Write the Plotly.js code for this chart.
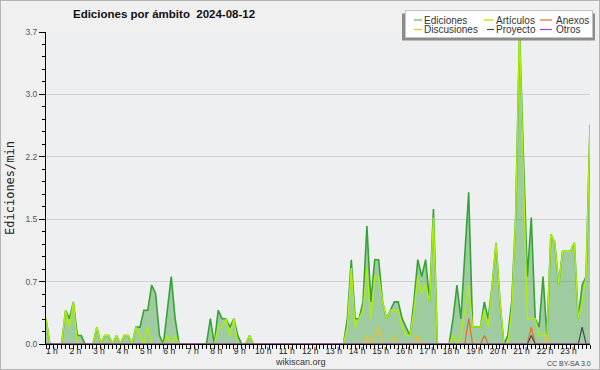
<!DOCTYPE html>
<html>
<head>
<meta charset="utf-8">
<script src="https://cdn.plot.ly/plotly-3.0.1.min.js"></script>
<style>
  html, body { margin: 0; padding: 0; background: #f0f0f0; }
  #chart { width: 598px; height: 368px; border: 1px solid #b4b4b4; }
</style>
</head>
<body>
<div id="chart"></div>
<script>
// ---- data (edits per minute, 10-minute steps) ----
const startHour = 0.75;      // first sample
const stepHours = 1 / 6;     // 10 minutes

const ediciones = [
  0.3,0,0,0,0,0.4,0.3,0.5,0.1,0.1,
  0,0,0,0.2,0,0.1,0.1,0,0.1,0,
  0.1,0.1,0,0.2,0.2,0.4,0.4,0.7,0.6,0.1,
  0,0.4,0.8,0.3,0,0,0,0,0,0,
  0,0,0.3,0,0.4,0.3,0.3,0.2,0.3,0.1,
  0,0,0.1,0,0,0,0,0,0,0,
  0,0,0,0,0,0,0,0,0,0,
  0,0,0,0,0,0,0,0.3,1.0,0.3,
  0.3,0.5,1.4,0.5,1.0,1.0,0.5,0.3,0.4,0.5,
  0.5,0.3,0.2,0.1,0.5,1.0,0.8,1.0,0.5,1.6,
  0,0,0,0,0.3,0.7,0.3,1.0,1.8,0.2,
  0.2,0.2,0.5,0.3,0.7,1.2,0.5,0,0.1,0.5,
  1.5,3.7,2.2,0.8,1.5,0.3,0.2,0.8,0.1,1.3,
  1.2,0.7,1.1,1.1,1.1,1.2,0.3,0.7,0.8,2.6
];
const articulos = [
  0.3,0,0,0,0,0.4,0.2,0.5,0,0,
  0,0,0,0.2,0,0.1,0.1,0,0.1,0,
  0.1,0.1,0,0.2,0.1,0,0.2,0,0,0,
  0,0.1,0,0.1,0,0,0,0,0,0,
  0,0,0,0,0.2,0.2,0.3,0.1,0.3,0,
  0,0,0.1,0,0,0,0,0,0,0,
  0,0,0,0,0,0,0,0,0,0,
  0,0,0,0,0,0,0,0.2,0.9,0.2,
  0.3,0.4,0.9,0.3,0.8,0.8,0.5,0.3,0.4,0.4,
  0.4,0.2,0.1,0.1,0.4,0.8,0.6,0.7,0.5,1.5,
  0,0,0,0,0.1,0,0.1,0.4,0.7,0.2,
  0.2,0.2,0.4,0.2,0.7,1.2,0.5,0,0,0.4,
  1.5,3.7,2.0,0.3,0.3,0.3,0.1,0.1,0.1,1.3,
  1.2,0.7,1.1,1.1,1.1,1.2,0.3,0.5,0.8,2.6
];
const discusiones = [
  0,0,0,0,0,0,0,0,0,0,
  0,0,0,0,0,0,0,0,0,0,
  0,0,0,0,0,0,0,0,0,0,
  0,0,0,0,0,0,0,0,0,0,
  0,0,0,0,0,0,0,0,0,0,
  0,0,0,0,0,0,0,0,0,0,
  0,0,0,0,0,0,0,0,0,0,
  0,0,0,0,0,0,0,0,0,0,
  0,0,0.1,0,0.1,0.2,0,0,0,0.1,
  0,0,0,0,0,0.1,0,0,0,0,
  0,0,0,0,0,0,0,0,0,0,
  0,0,0,0,0,0,0,0,0,0,
  0,0,0,0,0,0,0,0,0.1,0,
  0,0,0,0,0,0,0,0,0,0
];
const anexos = [
  0,0,0,0,0,0,0,0,0,0,
  0,0,0,0,0,0,0,0,0,0,
  0,0,0,0,0,0,0,0,0,0,
  0,0,0,0,0,0,0,0,0,0,
  0,0,0,0,0,0,0,0,0,0,
  0,0,0,0,0,0,0,0,0,0,
  0,0,0,0,0,0,0,0,0,0,
  0,0,0,0,0,0,0,0,0,0,
  0,0,0,0,0,0,0,0,0,0,
  0,0,0,0,0,0,0,0,0,0,
  0,0,0,0,0,0,0,0,0.3,0,
  0,0,0.1,0,0,0,0,0,0,0,
  0,0,0,0,0.2,0,0,0,0,0,
  0,0,0,0,0,0,0,0,0,0
];
const proyecto = [
  0,0,0,0,0,0,0,0,0,0,
  0,0,0,0,0,0,0,0,0,0,
  0,0,0,0,0,0,0,0,0,0,
  0,0,0,0,0,0,0,0,0,0,
  0,0,0,0,0,0,0,0,0,0,
  0,0,0,0,0,0,0,0,0,0,
  0,0,0,0,0,0,0,0,0,0,
  0,0,0,0,0,0,0,0,0,0,
  0,0,0,0,0,0,0,0,0,0,
  0,0,0,0,0,0,0,0,0,0,
  0,0,0,0,0,0,0,0,0,0,
  0,0,0,0,0,0,0,0,0,0,
  0,0,0,0,0.1,0,0,0,0,0,
  0,0,0,0,0,0,0,0.2,0,0
];
const otros = new Array(ediciones.length).fill(0);

const hourTicks = [1,2,3,4,5,6,7,8,9,10,11,12,13,14,15,16,17,18,19,20,21,22,23];
const hourLabels = ["1 h","2 h","3 h","4 h","5 h","6 h","7 h","8 h","9 h","10 h","11 h","12 h",
                    "13 h","14 h","15 h","16 h","17 h","18 h","19 h","20 h","21 h","22 h","23 h"];
const yTickVals = [0, 0.74, 1.48, 2.22, 2.96, 3.7];
const yTickText = ["0.0", "0.7", "1.5", "2.2", "3.0", "3.7"];

// ---- chart ----
const x = ediciones.map((_, i) => startHour + i * stepHours);
const xEnd = startHour + (ediciones.length - 1) * stepHours;

function line(name, y, color, width, group) {
  return { type: 'scatter', mode: 'lines', name: name, x: x, y: y,
           line: { color: color, width: width }, legendgroup: group, hoverinfo: 'skip' };
}

const data = [
  { type: 'scatter', mode: 'lines', x: x, y: ediciones, fill: 'tozeroy',
    fillcolor: 'rgba(60,160,60,0.45)', line: { width: 0, color: 'rgba(0,0,0,0)' },
    showlegend: false, hoverinfo: 'skip' },
  line('Ediciones', ediciones, '#37a337', 1.6, 'c1'),
  line('Artículos', articulos, '#aeee0c', 1.4, 'c2'),
  line('Discusiones', discusiones, '#f2c01a', 1.2, 'c1'),
  line('Anexos', anexos, '#ee6a22', 1.2, 'c3'),
  line('Proyecto', proyecto, '#4a4a4a', 1.2, 'c2'),
  line('Otros', otros, '#9a3cf0', 1.2, 'c3')
];

const layout = {
  width: 598, height: 368,
  margin: { l: 45, r: 9, t: 31, b: 25, autoexpand: false },
  paper_bgcolor: '#f0f0f0',
  plot_bgcolor: '#eeeff1',
  font: { family: 'Liberation Sans, Arial, sans-serif', size: 9, color: '#333' },
  title: {
    text: '<b>Ediciones por ámbito\u00a0 2024-08-12</b>',
    font: { family: 'Liberation Sans, Arial, sans-serif', size: 11.5, color: '#111' },
    xref: 'paper', x: 0.217, xanchor: 'center',
    yref: 'container', y: 0.965, yanchor: 'middle'
  },
  xaxis: {
    range: [startHour, xEnd],
    tickmode: 'array', tickvals: hourTicks, ticktext: hourLabels,
    ticks: '', showgrid: false, zeroline: false,
    showline: true, linecolor: '#000', linewidth: 1,
    tickfont: { size: 8.5, color: '#222' },
    ticklabelstandoff: -1,
    minor: { tickmode: 'linear', tick0: startHour, dtick: stepHours,
             ticks: 'outside', ticklen: 4, tickcolor: '#000', tickwidth: 1, showgrid: false },
    fixedrange: true
  },
  yaxis: {
    range: [0, 3.7],
    tickmode: 'array', tickvals: yTickVals, ticktext: yTickText,
    ticks: 'outside', ticklen: 6, tickcolor: '#000', tickwidth: 1,
    showgrid: true, gridcolor: '#cfcfcf', gridwidth: 1, zeroline: false,
    showline: true, linecolor: '#000', linewidth: 1,
    tickfont: { size: 8.5, color: '#555' },
    minor: { tickmode: 'linear', tick0: 0, dtick: 0.148,
             ticks: 'outside', ticklen: 3, tickcolor: '#000', tickwidth: 1, showgrid: false },
    title: { text: 'Ediciones/min', standoff: 8,
             font: { family: 'DejaVu Sans Mono, monospace', size: 12, color: '#222' } },
    fixedrange: true
  },
  showlegend: true,
  legend: {
    orientation: 'h', traceorder: 'grouped', tracegroupgap: 0,
    x: 1, xanchor: 'right', xref: 'paper',
    y: 1.077, yanchor: 'top', yref: 'paper',
    bgcolor: '#ffffff', bordercolor: '#c4c4c4', borderwidth: 1,
    font: { family: 'Liberation Sans, Arial, sans-serif', size: 10, color: '#333' }
  },
  annotations: [
    { text: 'wikiscan.org', showarrow: false, xref: 'paper', x: 0.467, xanchor: 'center',
      yref: 'paper', y: -0.0565, yanchor: 'middle',
      font: { family: 'Liberation Sans, Arial, sans-serif', size: 9, color: '#333' } },
    { text: 'CC BY-SA 3.0', showarrow: false, xref: 'paper', x: 0.961, xanchor: 'center',
      yref: 'paper', y: -0.0609, yanchor: 'middle',
      font: { family: 'Liberation Sans, Arial, sans-serif', size: 7, color: '#444' } }
  ]
};

// compact three-column legend layout (legend-local pixels)
const legendBox = { x: 404, y: 9, w: 187, h: 27 };
const legendSlots = {
  'Ediciones':   { cy: 10,   tx: 19,  lx: 9,   lw: 8,  color: '#7fcf7f' },
  'Discusiones': { cy: 19.5, tx: 19,  lx: 9,   lw: 8 },
  'Artículos':   { cy: 10,   tx: 91,  lx: 79,  lw: 9 },
  'Proyecto':    { cy: 19.5, tx: 91,  lx: 82,  lw: 7 },
  'Anexos':      { cy: 10,   tx: 151, lx: 135, lw: 12 },
  'Otros':       { cy: 19.5, tx: 151, lx: 135, lw: 12 }
};

function compactLegend(gd) {
  const lg = gd.querySelector('g.legend');
  if (!lg) return;
  lg.setAttribute('transform', 'translate(' + legendBox.x + ',' + legendBox.y + ')');
  const bg = lg.querySelector('rect.bg');
  if (bg) {
    bg.setAttribute('x', 0.5); bg.setAttribute('y', 0.5);
    bg.setAttribute('width', legendBox.w); bg.setAttribute('height', legendBox.h);
    const sh = document.createElementNS('http://www.w3.org/2000/svg', 'rect');
    sh.setAttribute('x', -3); sh.setAttribute('y', 3.5);
    sh.setAttribute('width', legendBox.w + 6); sh.setAttribute('height', legendBox.h);
    sh.setAttribute('fill', '#8c8c8c');
    lg.insertBefore(sh, bg);
  }
  const sb = lg.querySelector('g.scrollbox');
  if (sb) { sb.setAttribute('transform', 'translate(0,0)'); sb.removeAttribute('clip-path'); }
  lg.querySelectorAll('g.groups').forEach(g => g.setAttribute('transform', 'translate(0,0)'));
  lg.querySelectorAll('g.traces').forEach(tr => {
    const t = tr.querySelector('text.legendtext');
    if (!t) return;
    const p = legendSlots[t.textContent];
    if (!p) return;
    tr.setAttribute('transform', 'translate(0,' + p.cy + ')');
    t.setAttribute('x', p.tx);
    tr.querySelectorAll('path.js-line').forEach(pa => {
      pa.setAttribute('d', 'M' + p.lx + ',0h' + p.lw);
      if (p.color) pa.style.stroke = p.color;
    });
  });
}

const gd = document.getElementById('chart');
Plotly.newPlot(gd, data, layout, { displayModeBar: false, staticPlot: true })
  .then(() => compactLegend(gd));
</script>
</body>
</html>
